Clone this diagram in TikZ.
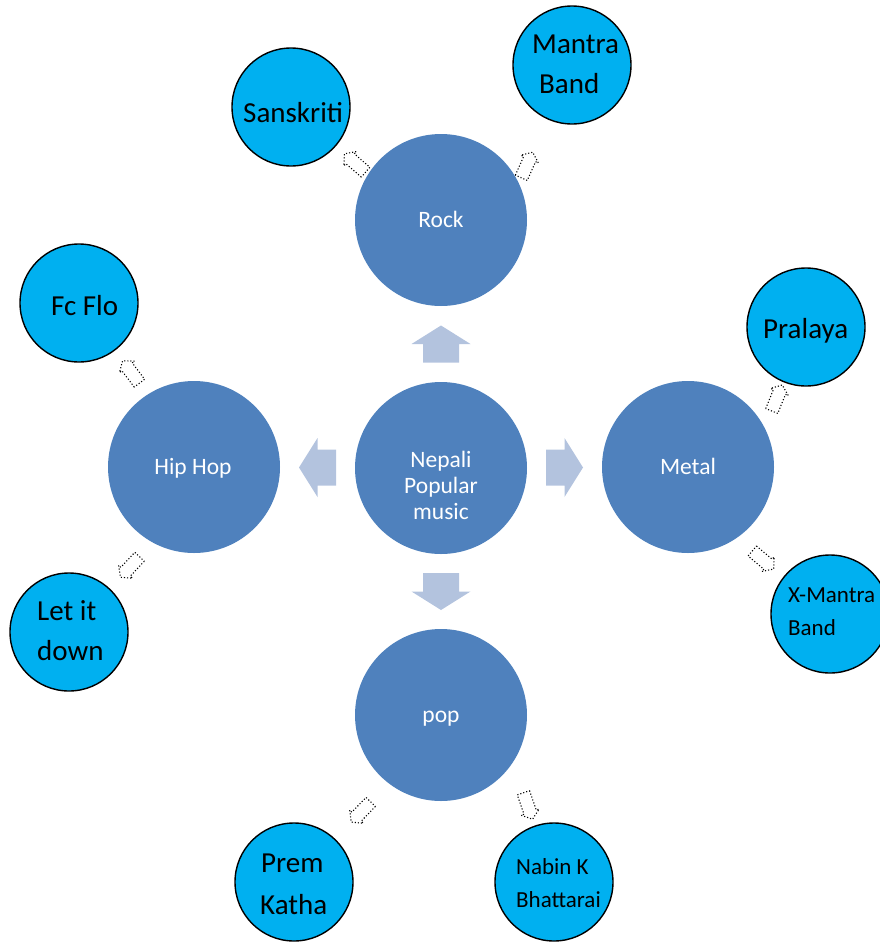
\documentclass[tikz,border=0pt]{standalone}
\usepackage{fontspec}
\setmainfont{Carlito}
\usetikzlibrary{calc}
\definecolor{bigblue}{RGB}{79,129,189}
\definecolor{smallblue}{RGB}{0,176,240}
\definecolor{arrowblue}{RGB}{179,195,222}
\tikzset{
  bigc/.style={circle, fill=bigblue, minimum size=172pt, inner sep=0pt},
  bigtxt/.style={anchor=base, inner sep=0pt, text=white, align=center, font=\fontsize{23.5}{26}\selectfont},
  smallc/.style={circle, fill=smallblue, draw=black, line width=1.4pt, minimum size=118pt, inner sep=0pt},
  lbl/.style={anchor=base west, inner sep=0pt, font=\fontsize{29}{35}\selectfont},
  lblsm/.style={anchor=base west, inner sep=0pt, font=\fontsize{23}{28}\selectfont},
  pics/bigarrow/.style={code={
    \fill[arrowblue] (-18.5,-18) -- (0,-18) -- (0,-29.5) -- (18.5,0) -- (0,29.5) -- (0,18) -- (-18.5,18) -- cycle;}},
  pics/dotarrow/.style={code={
    \draw[black, line width=1.1pt, dash pattern=on 1.1pt off 2pt]
      (-14,-6.5) -- (6.5,-6.5) -- (6.5,-9.5) -- (14,0) -- (6.5,9.5) -- (6.5,6.5) -- (-14,6.5) -- cycle;}},
}
\begin{document}
\begin{tikzpicture}[x=1pt,y=-1pt]
\useasboundingbox (0,0) rectangle (880,943);
% main circles
\node[bigc] (cen) at (441,468) {};
\node[bigc] (rock) at (441,220) {};
\node[bigc] (hip) at (194,467) {};
\node[bigc] (metal) at (688,467) {};
\node[bigc] (pop) at (441,715) {};
\node[bigtxt] (centxt) at (441,519) {Nepali\\Popular\\music};
\node[bigtxt] (rocktxt) at (441,227) {Rock};
\node[bigtxt] (hiptxt) at (193,474) {Hip Hop};
\node[bigtxt] (metaltxt) at (688,474) {Metal};
\node[bigtxt] (poptxt) at (441,722) {pop};
% big arrows
\pic[rotate=90] at ($(cen)!0.5!(rock)$) {bigarrow};
\pic[rotate=180] at ($(cen)!0.5!(hip)$) {bigarrow};
\pic[rotate=0] at ($(cen)!0.5!(metal)$) {bigarrow};
\pic[rotate=-90] at ($(cen)!0.5!(pop)$) {bigarrow};
% small circles
\node[smallc] (sk) at (291,107) {};
\node[smallc] (mb) at (572,65) {};
\node[smallc] (fc) at (79,303) {};
\node[smallc] (pr) at (806,327) {};
\node[smallc] (ld) at (69,632) {};
\node[smallc] (xm) at (830,614) {};
\node[smallc] (pk) at (294,882) {};
\node[smallc] (nb) at (554,882) {};
% labels
\node[lbl] (sk1) at (243,122) {Sanskriti};
\node[lbl] (mb1) at (532,53) {Mantra};
\node[lbl] (mb2) at (539,93) {Band};
\node[lbl] (fc1) at (51,315) {Fc Flo};
\node[lbl] (pr1) at (763,338) {Pralaya};
\node[lbl] (ld1) at (37,620) {Let it};
\node[lbl] (ld2) at (37,660) {down};
\node[lbl] (pk1) at (261,872) {Prem};
\node[lbl] (pk2) at (260,914) {Katha};
\node[lblsm] (xm1) at (788,602) {X-Mantra};
\node[lblsm] (xm2) at (788,635) {Band};
\node[lblsm] (nb1) at (516,874) {Nabin K};
\node[lblsm] (nb2) at (516,907) {Bhattarai};
% dotted arrows
\pic[rotate=139] at (355,163) {dotarrow};
\pic[rotate=66] at (527,165) {dotarrow};
\pic[rotate=127] at (131,372) {dotarrow};
\pic[rotate=-133] at (130,567) {dotarrow};
\pic[rotate=68] at (777,398) {dotarrow};
\pic[rotate=-40] at (763,560) {dotarrow};
\pic[rotate=-134] at (361,812) {dotarrow};
\pic[rotate=-71] at (528,806) {dotarrow};
\end{tikzpicture}
\end{document}
